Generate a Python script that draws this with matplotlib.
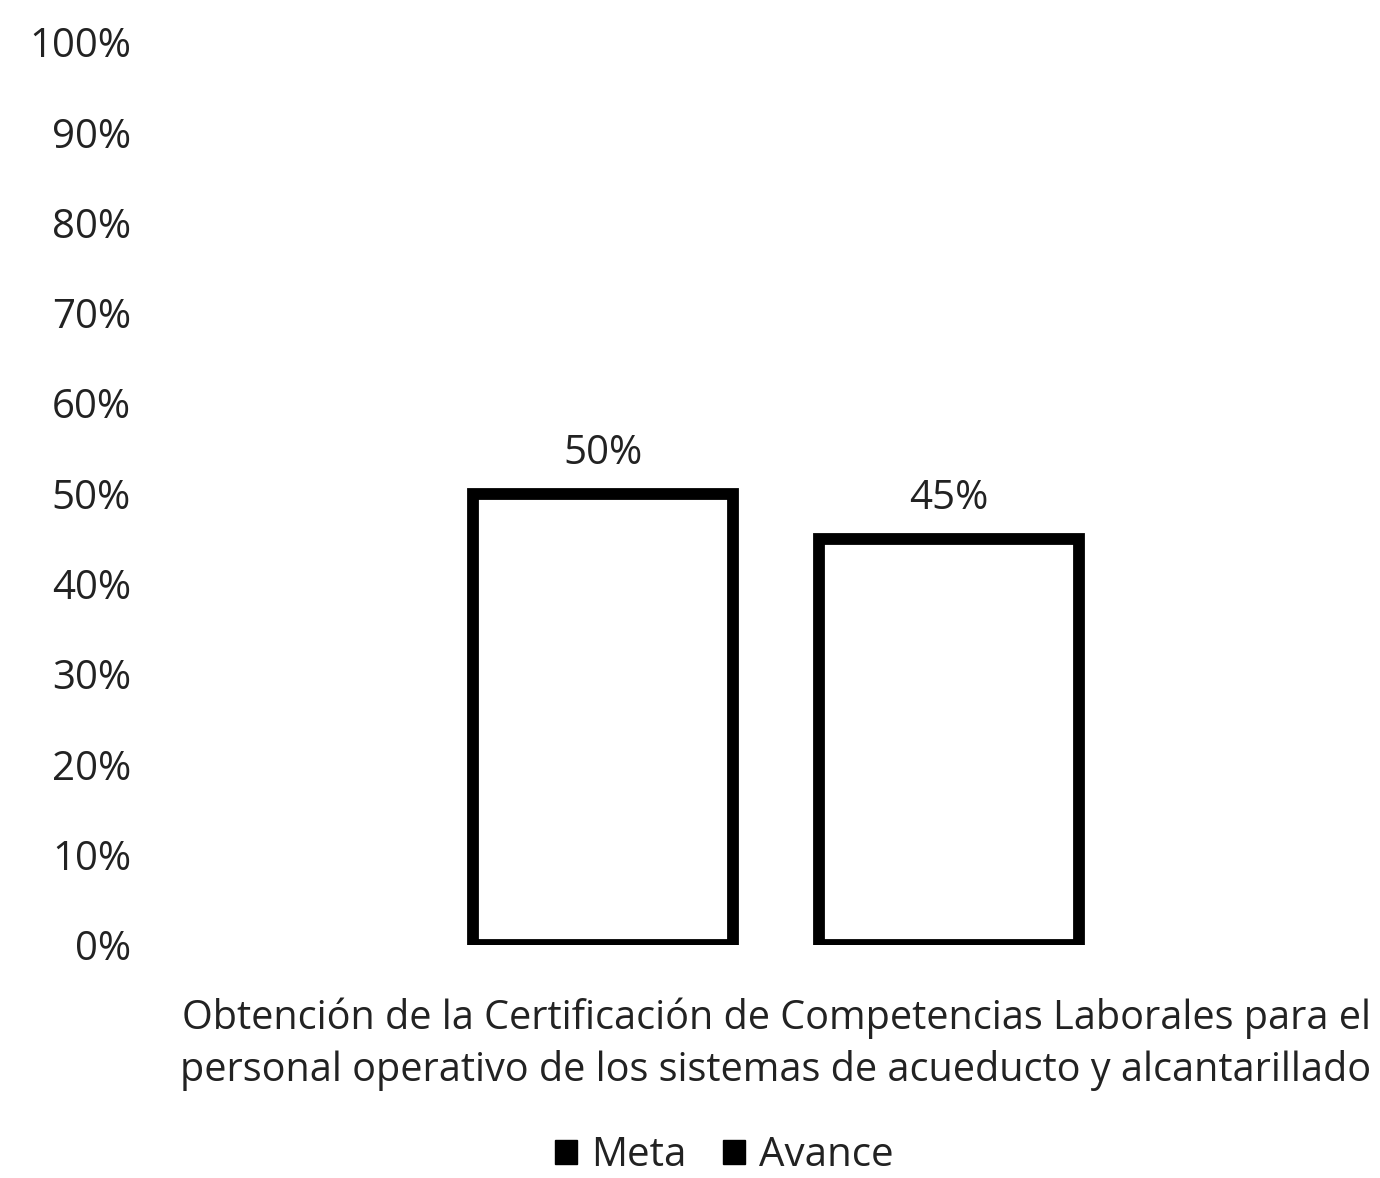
import matplotlib
matplotlib.use("Agg")
import matplotlib.pyplot as plt
from matplotlib.patches import Patch
from matplotlib.ticker import FuncFormatter

plt.rcParams['font.family'] = ['Open Sans', 'DejaVu Sans']

category = "Obtención de la Certificación de Competencias Laborales para el\npersonal operativo de los sistemas de acueducto y alcantarillado"
series = ["Meta", "Avance"]
values = [0.50, 0.45]
yticks = [0, 0.1, 0.2, 0.3, 0.4, 0.5, 0.6, 0.7, 0.8, 0.9, 1.0]

fig = plt.figure(figsize=(13.8, 11.78), dpi=100)
ax = fig.add_axes([170 / 1380, 1 - 945 / 1178, 1212 / 1380, (945 - 42) / 1178])

offsets = [-0.1425, 0.1425]
width = 0.2145
for off, val in zip(offsets, values):
    ax.bar(off, val, width=width, facecolor="white", edgecolor="black",
           linewidth=8.5)
    ax.text(off, val + 0.022, f"{val:.0%}", ha="center", va="bottom",
            fontsize=29, color="#222222")

ax.set_xlim(-0.5, 0.5)
ax.set_ylim(0, 1.0)
ax.set_yticks(yticks)
ax.yaxis.set_major_formatter(FuncFormatter(lambda v, _: f"{v:.0%}"))
ax.tick_params(axis="y", length=0, pad=28, labelsize=29, labelcolor="#222222")
ax.set_xticks([0])
ax.set_xticklabels([category], fontsize=28.5, color="#222222", linespacing=1.35)
ax.tick_params(axis="x", length=0, pad=38)
for s in ax.spines.values():
    s.set_visible(False)

handles = [Patch(facecolor="black", edgecolor="black", label=s) for s in series]
fig.legend(handles=handles, loc="center", bbox_to_anchor=(724 / 1380, 1 - 1156 / 1178),
           ncol=2, frameon=False, fontsize=29, handlelength=0.55, handleheight=0.55,
           handletextpad=0.35, columnspacing=0.9, labelcolor="#222222",
           borderpad=0.1)

fig.savefig("out.png", dpi=100, facecolor="white")
